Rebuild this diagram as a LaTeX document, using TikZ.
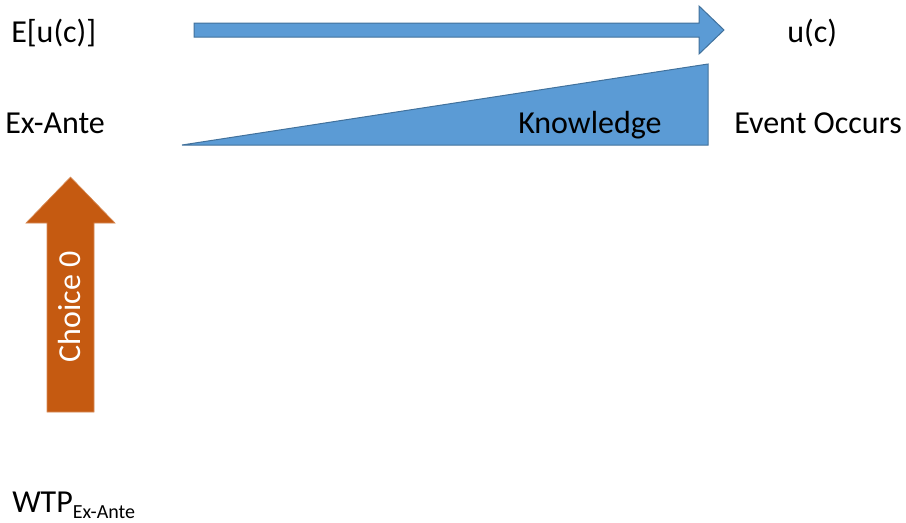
\documentclass[tikz,border=0pt]{standalone}
\usepackage{fontspec}
\setmainfont{Carlito}
\usepackage{tikz}
\usetikzlibrary{calc,positioning}
\usepackage{xcolor}
\definecolor{officeblue}{HTML}{5B9BD5}
\definecolor{officeblueline}{HTML}{41719C}
\definecolor{officeorange}{HTML}{C55A11}
\begin{document}
\begin{tikzpicture}[x=0.75pt,y=-0.75pt]
        \tikzstyle{label}=[inner sep=0pt, anchor=base west, font=\fontsize{24}{29}\selectfont]
        \tikzstyle{bluebody}=[fill=officeblue, draw=officeblueline, line width=0.75pt, line join=miter]
        \tikzstyle{orangebody}=[fill=officeorange, draw=officeorange!70!white, line width=0.5pt]
        \useasboundingbox (0,0) rectangle (906,522);
        % time arrow (top)
        \coordinate (t1) at (194,23);   % shaft upper left
        \coordinate (t2) at (699,23);   % shaft upper right
        \coordinate (t3) at (699,6);    % head upper
        \coordinate (t4) at (724,30);   % tip
        \coordinate (t5) at (699,54);   % head lower
        \coordinate (t6) at (699,37);   % shaft lower right
        \coordinate (t7) at (194,37);   % shaft lower left
        \draw[bluebody] (t1) -- (t2) -- (t3) -- (t4) -- (t5) -- (t6) -- (t7) -- cycle;
        % knowledge wedge
        \coordinate (k1) at (182,145);  % left point
        \coordinate (k2) at (708,64);   % upper right
        \coordinate (k3) at (708,145);  % lower right
        \draw[bluebody] (k1) -- (k2) -- (k3) -- cycle;
        % choice arrow (left)
        \coordinate (c1) at (47,412);   % shaft lower left
        \coordinate (c2) at (47,223);   % shaft upper left
        \coordinate (c3) at (26,223);   % head left
        \coordinate (c4) at (70.5,177); % tip
        \coordinate (c5) at (115,223);  % head right
        \coordinate (c6) at (94,223);   % shaft upper right
        \coordinate (c7) at (94,412);   % shaft lower right
        \draw[orangebody] (c1) -- (c2) -- (c3) -- (c4) -- (c5) -- (c6) -- (c7) -- cycle;
        % texts
        \node[label] (eu) at (11,42) {E[u(c)]};
        \node[label] (uc) at (787,42) {u(c)};
        \node[label] (exante) at (5,133) {Ex-Ante};
        \node[label] (event) at (734,133) {Event Occurs};
        \node[label] (know) at (518,133) {Knowledge};
        \node[label, text=white, rotate=90, anchor=base] (choice) at (80,307) {Choice 0};
        \node[label] (wtp) at (12,512) {WTP\raisebox{-4.5pt}{\fontsize{15}{18}\selectfont Ex-Ante}};
\end{tikzpicture}
\end{document}
